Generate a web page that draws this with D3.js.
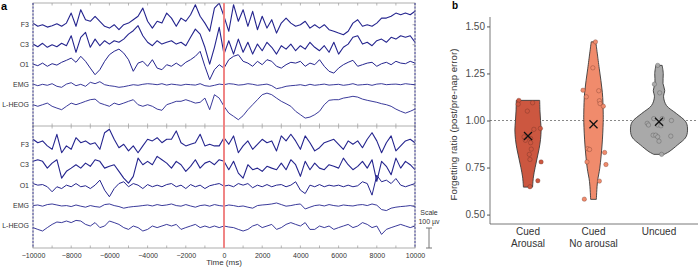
<!DOCTYPE html>
<html>
<head>
<meta charset="utf-8">
<script src="https://cdn.jsdelivr.net/npm/d3@7"></script>
<style>
  body { margin: 0; background: #fff; }
  svg { font-family: "Liberation Sans", Arial, sans-serif; }
</style>
</head>
<body>
<script>
const w = 700;
const h = 267;

// ---- panel a: EEG traces, deflection in microvolts, one sample every 250 ms from -10000 to 10000
const channels = ['F3', 'C3', 'O1', 'EMG', 'L-HEOG'];

const topF3 = [8,-8,0,-12,-5,5,-8,8,58,-8,75,25,17,42,17,-8,-17,0,-25,0,8,25,42,83,17,-17,17,8,58,33,-8,33,17,50,100,42,8,-33,83,108,42,-33,100,17,75,-8,67,-25,42,-17,25,-42,8,33,8,-8,0,17,-17,0,-17,0,-25,-33,-42,-50,-33,8,25,-8,0,-8,8,33,33,42,58,50,58,50,67];
const topC3 = [3,-10,7,-13,0,-10,7,-5,45,-38,37,62,-13,28,-5,20,3,20,12,28,53,70,95,45,12,-5,20,3,12,20,3,12,-5,37,78,53,-13,-97,-13,87,-47,20,-47,28,-38,12,-47,3,-30,12,-13,-47,-5,-22,3,-30,-5,-22,12,-13,-30,-5,-38,12,-47,-13,3,37,45,3,12,-5,20,28,12,37,28,45,37,45,12];
const topO1 = [3,-5,8,-8,5,-2,12,22,33,12,42,17,-17,-50,-25,17,50,67,78,58,25,-33,8,17,-8,25,-17,-25,0,-8,8,-8,12,25,42,67,-8,-75,-25,0,-17,25,42,50,17,8,-8,17,0,25,17,-8,-17,0,12,8,17,-8,8,0,25,-8,-33,-42,-17,0,12,22,-8,0,8,12,-8,5,12,0,17,8,5,17,8];
const topEMG = [3,-5,2,-3,5,-8,-13,3,10,-5,2,-8,12,5,15,0,-5,-8,-13,-10,-5,0,-3,2,5,3,0,5,-2,3,0,-3,2,0,-2,5,-5,-8,-3,3,0,5,3,-2,0,5,2,-3,0,3,-5,-20,-15,-8,-5,-3,0,-5,2,-3,0,3,-2,0,2,-3,0,5,-2,0,2,-3,3,5,0,2,3,0,5,2,0];
const topHEOG = [0,-8,0,8,-8,-17,-25,-8,8,0,8,17,25,28,8,0,-8,8,0,8,17,25,0,-8,0,-8,-22,-28,0,8,17,17,25,17,8,12,33,-25,50,33,-8,-42,-58,-75,-55,-25,0,25,50,58,50,33,17,5,-8,-33,-50,-67,-62,-50,-33,0,22,25,25,33,37,42,38,28,22,17,12,5,0,-8,-22,-33,-42,-33,-22];

const botF3 = [25,8,17,-8,-25,50,-42,-8,-25,33,8,17,0,8,-25,58,75,25,-17,0,-33,-8,-42,-8,25,17,33,8,25,25,67,8,-8,0,8,50,-8,0,-8,-8,33,0,42,-42,-8,17,-25,0,25,8,17,-33,42,17,50,17,-25,42,8,-33,-17,8,17,25,0,-25,17,0,17,-17,25,58,17,-42,8,42,-33,-8,17,25,8];
const botC3 = [17,25,17,-17,8,25,-67,-33,-17,0,-17,8,-8,25,17,-17,-8,0,-33,-67,-92,-58,33,0,17,0,42,25,8,-17,17,0,-33,-8,25,-17,8,17,0,25,17,-25,17,-42,-67,0,-25,-17,-33,-8,-17,-25,8,-25,25,0,-58,17,-25,8,-17,-25,0,-8,-17,33,0,-25,-8,17,-17,25,-83,17,-8,-50,33,-17,17,0,-25];
const botO1 = [8,0,3,-8,-33,-8,-17,0,-8,8,-8,-3,-17,0,25,-25,-58,-17,8,17,-8,8,0,-17,3,-8,0,-8,3,8,-8,0,-17,3,-8,0,-17,-3,3,8,-5,0,-8,8,0,8,-13,0,-8,3,-8,0,3,-8,0,17,-25,-42,0,-8,3,-8,0,-5,0,-8,0,-8,-3,17,8,-50,50,17,25,8,33,0,-8,0,8];
const botEMG = [0,3,-3,5,8,3,-2,0,-5,3,-3,-8,0,-5,-8,5,8,0,-5,-13,-8,-5,-3,0,3,-2,5,0,3,8,0,-3,5,-2,-8,0,3,-3,5,0,-3,3,0,-5,-2,-8,-13,0,3,5,8,13,5,-3,0,5,8,-17,-8,0,3,-2,5,0,-3,3,0,-2,3,5,0,8,2,-20,-25,-13,-8,-5,-3,0,-5];
const botHEOG = [-8,-17,-25,-8,8,20,17,25,17,28,25,8,0,17,-8,0,25,17,8,-8,-17,0,-8,-25,-17,0,-8,0,8,0,8,-17,-8,0,8,-8,0,-8,0,-8,0,-5,-8,-17,-25,-17,0,8,-8,0,8,-17,-8,8,17,8,0,17,-17,-17,0,-8,0,-17,-8,0,8,-8,0,17,8,-8,0,-42,-17,-8,0,8,0,-8,0];

const timeTicks = [-10000,-8000,-6000,-4000,-2000,0,2000,4000,6000,8000,10000];

// ---- panel b: forgetting ratio
const groups = ['Cued Arousal', 'Cued No arousal', 'Uncued'];
const groupLines = [['Cued', 'Arousal'], ['Cued', 'No arousal'], ['Uncued']];
const groupColors = ['#cc5740', '#f08b6c', '#a9a9a9'];
const ratioTicks = [0.5, 0.75, 1.0, 1.25, 1.5];

// violin outlines: [ratio, relative density]
const violinArousal = [[0.646,0.16],[0.70,0.19],[0.75,0.25],[0.80,0.32],[0.85,0.39],[0.90,0.44],[0.95,0.46],[1.00,0.44],[1.05,0.42],[1.107,0.41]];
const violinNoArousal = [[0.581,0.10],[0.675,0.14],[0.747,0.22],[0.87,0.30],[0.99,0.34],[1.045,0.34],[1.15,0.31],[1.278,0.20],[1.418,0.08]];
const violinUncued = [[0.82,0.18],[0.834,0.35],[0.87,0.65],[0.913,0.95],[0.96,1.0],[0.993,0.94],[1.037,0.61],[1.08,0.26],[1.126,0.16],[1.16,0.20],[1.197,0.14],[1.25,0.15],[1.293,0.11]];

// subjects: ratio and horizontal jitter (fraction of group spacing)
const ratiosArousal = [1.107,1.087,1.094,1.05,0.958,0.953,0.913,0.895,0.904,0.882,0.848,0.82,0.793,0.78,0.68,0.648];
const jitterArousal = [-0.14,-0.15,0.07,-0.01,0.19,0.09,-0.06,-0.04,0.04,0.04,0.05,0.02,0.03,0.20,0.15,0.03];
const ratiosNoArousal = [1.418,1.28,1.161,1.158,1.126,1.105,1.09,1.076,0.85,0.846,0.83,0.78,0.766,0.678,0.582];
const jitterNoArousal = [0.03,-0.01,-0.16,0.08,-0.11,0.09,0.10,0.15,-0.09,-0.06,0.17,-0.10,0.19,0.09,-0.14];
const ratiosUncued = [1.293,1.193,1.147,1.01,1.01,1.0,0.985,0.976,0.976,0.972,0.922,0.922,0.913,0.917,0.89,0.82];
const jitterUncued = [-0.02,-0.07,0.01,-0.08,0.05,0.19,-0.18,-0.16,-0.02,0.03,-0.09,-0.05,-0.02,0.18,0.0,0.04];

const groupMeans = [0.918, 0.98, 0.993];

const svg = d3.select('body').append('svg')
  .attr('width', w)
  .attr('height', h);

// ================= panel a =================
const traceColor = '#24248e';
const x = d3.scaleLinear().domain([-10000, 10000]).range([33, 415]);
const uv = d3.scaleLinear().domain([0, 100]).range([0, 20]); // 100 uV = 20 px

const subpanels = [
  {id: 'top', top: 3, bottom: 126, range: [21.7, 101.7],
   traces: [topF3, topC3, topO1, topEMG, topHEOG]},
  {id: 'bot', top: 126, bottom: 248, range: [18.3, 100],
   traces: [botF3, botC3, botO1, botEMG, botHEOG]}
];
const traceWidths = [1.1, 1.1, 1.0, 0.9, 0.9];

const defs = svg.append('defs');

subpanels.forEach(p => {
  defs.append('clipPath').attr('id', 'clip-' + p.id)
    .append('rect')
      .attr('x', x(-10000))
      .attr('y', p.top)
      .attr('width', x(10000) - x(-10000))
      .attr('height', p.bottom - p.top);

  const chan = d3.scalePoint().domain(channels)
    .range([p.top + p.range[0], p.top + p.range[1]]);

  const g = svg.append('g');

  // tick marks on top and bottom edges
  const minor = d3.range(-10000, 10001, 1000);
  g.selectAll('line.tk-top').data(minor).enter().append('line')
    .attr('x1', d => x(d)).attr('x2', d => x(d))
    .attr('y1', p.top).attr('y2', p.top + 2.5)
    .attr('stroke', '#888').attr('stroke-width', 0.6);
  g.selectAll('line.tk-bot').data(minor).enter().append('line')
    .attr('x1', d => x(d)).attr('x2', d => x(d))
    .attr('y1', p.bottom).attr('y2', p.bottom - 2.5)
    .attr('stroke', '#888').attr('stroke-width', 0.6);

  // small marks on the right edge at each channel
  g.selectAll('line.tk-r').data(channels).enter().append('line')
    .attr('x1', x(10000)).attr('x2', x(10000) - 2.5)
    .attr('y1', d => chan(d)).attr('y2', d => chan(d))
    .attr('stroke', '#888').attr('stroke-width', 0.6);

  const line = d3.line()
    .x((d, i, arr) => x(-10000 + i * 20000 / (arr.length - 1)))
    .y(d => -uv(d));

  const traceG = g.append('g').attr('clip-path', `url(#clip-${p.id})`);
  p.traces.forEach((t, k) => {
    traceG.append('path')
      .attr('transform', `translate(0,${chan(channels[k])})`)
      .attr('d', line(t))
      .attr('fill', 'none')
      .attr('stroke', traceColor)
      .attr('stroke-width', traceWidths[k])
      .attr('stroke-linejoin', 'round');
  });

  g.selectAll('text.chan').data(channels).enter().append('text')
    .attr('x', 29)
    .attr('y', d => chan(d))
    .attr('dy', '0.35em')
    .attr('text-anchor', 'end')
    .attr('font-size', 7)
    .attr('fill', '#333')
    .text(d => d);
});

// frame
svg.append('rect')
  .attr('x', x(-10000)).attr('y', 3)
  .attr('width', x(10000) - x(-10000)).attr('height', 245)
  .attr('fill', 'none').attr('stroke', '#999').attr('stroke-width', 0.8);
svg.append('line')
  .attr('x1', x(-10000)).attr('x2', x(10000))
  .attr('y1', 126).attr('y2', 126)
  .attr('stroke', '#999').attr('stroke-width', 0.8);
[-10000, 10000].forEach(t => {
  svg.append('line')
    .attr('x1', x(t)).attr('x2', x(t))
    .attr('y1', 3).attr('y2', 248)
    .attr('stroke', '#3b3b9e').attr('stroke-width', 0.9)
    .attr('stroke-dasharray', '2,1.5');
});

// stimulus onset
svg.append('line')
  .attr('x1', x(0)).attr('x2', x(0))
  .attr('y1', 3).attr('y2', 248)
  .attr('stroke', '#f08585').attr('stroke-width', 2);

// time axis labels
const xAxis = svg.append('g')
  .attr('transform', 'translate(0,248)')
  .call(d3.axisBottom(x).tickValues(timeTicks).tickSize(0).tickPadding(5).tickFormat(d3.format('d')));
xAxis.select('.domain').remove();
xAxis.selectAll('text')
  .attr('font-family', '"Liberation Sans", Arial, sans-serif')
  .attr('font-size', 7)
  .attr('fill', '#333');

svg.append('text')
  .attr('x', x(0)).attr('y', 265)
  .attr('text-anchor', 'middle')
  .attr('font-size', 8)
  .attr('fill', '#333')
  .text('Time (ms)');

// scale bar
svg.append('text').attr('x', 429).attr('y', 215)
  .attr('text-anchor', 'middle').attr('font-size', 7).attr('fill', '#333')
  .text('Scale');
svg.append('text').attr('x', 429).attr('y', 224)
  .attr('text-anchor', 'middle').attr('font-size', 7).attr('fill', '#333')
  .text('100 µv');
const bar = svg.append('g').attr('stroke', '#777').attr('stroke-width', 1);
bar.append('line').attr('x1', 429).attr('x2', 429).attr('y1', 248 - uv(100)).attr('y2', 248);
bar.append('line').attr('x1', 426).attr('x2', 432).attr('y1', 248 - uv(100)).attr('y2', 248 - uv(100));
bar.append('line').attr('x1', 426).attr('x2', 432).attr('y1', 248).attr('y2', 248);

svg.append('text').attr('x', 1).attr('y', 9.5)
  .attr('font-size', 11).attr('font-weight', 'bold').text('a');

// ================= panel b =================
const y = d3.scaleLinear().domain([0.45, 1.55]).range([224, 17]);
const gx = d3.scalePoint().domain(groups).range([528, 659]);
const spacing = gx.step();
const vw = d3.scaleLinear().domain([0, 1]).range([0, 28.5]);

svg.append('text').attr('x', 452).attr('y', 8.5)
  .attr('font-size', 10).attr('font-weight', 'bold').text('b');

// reference line at 1
svg.append('line')
  .attr('x1', 490).attr('x2', 698)
  .attr('y1', y(1)).attr('y2', y(1))
  .attr('stroke', '#555').attr('stroke-width', 0.7)
  .attr('stroke-dasharray', '2,2');

const violins = [violinArousal, violinNoArousal, violinUncued];
const ratios = [ratiosArousal, ratiosNoArousal, ratiosUncued];
const jitters = [jitterArousal, jitterNoArousal, jitterUncued];

violins.forEach((v, i) => {
  const cx = gx(groups[i]);
  const area = d3.area()
    .curve(d3.curveCatmullRom)
    .y(d => y(d[0]))
    .x0(d => cx - vw(d[1]))
    .x1(d => cx + vw(d[1]));
  svg.append('path')
    .attr('d', area(v))
    .attr('fill', groupColors[i])
    .attr('stroke', '#3a3a3a')
    .attr('stroke-width', 0.9);
});

ratios.forEach((r, i) => {
  const cx = gx(groups[i]);
  svg.selectAll(null).data(r).enter().append('circle')
    .attr('cx', (d, k) => cx + jitters[i][k] * spacing)
    .attr('cy', d => y(d))
    .attr('r', 2.2)
    .attr('fill', groupColors[i])
    .attr('stroke', i === 2 ? 'rgba(70,70,70,0.55)' : 'rgba(90,40,30,0.5)')
    .attr('stroke-width', 0.6);
});

// group means as crosses
groupMeans.forEach((m, i) => {
  const cx = gx(groups[i]);
  const cy = y(m);
  const s = 4;
  const g = svg.append('g').attr('stroke', '#111').attr('stroke-width', 1.3);
  g.append('line').attr('x1', cx - s).attr('x2', cx + s).attr('y1', cy - s).attr('y2', cy + s);
  g.append('line').attr('x1', cx - s).attr('x2', cx + s).attr('y1', cy + s).attr('y2', cy - s);
});

// axes
const yAxis = svg.append('g')
  .attr('transform', 'translate(490,0)')
  .call(d3.axisLeft(y).tickValues(ratioTicks).tickSize(3).tickPadding(2).tickFormat(d3.format('.2f')));
yAxis.select('.domain').remove();
yAxis.selectAll('line').attr('stroke', '#555');
yAxis.selectAll('text')
  .attr('font-family', '"Liberation Sans", Arial, sans-serif')
  .attr('font-size', 10)
  .attr('fill', '#4d4d4d');

svg.append('line').attr('x1', 490).attr('x2', 490).attr('y1', 17).attr('y2', 224)
  .attr('stroke', '#555').attr('stroke-width', 0.8);
svg.append('line').attr('x1', 490).attr('x2', 698).attr('y1', 224).attr('y2', 224)
  .attr('stroke', '#555').attr('stroke-width', 0.8);

groups.forEach((gname, i) => {
  const t = svg.append('text')
    .attr('x', gx(gname)).attr('y', 235)
    .attr('text-anchor', 'middle')
    .attr('font-size', 10)
    .attr('fill', '#333');
  groupLines[i].forEach((ln, j) => {
    t.append('tspan').attr('x', gx(gname)).attr('dy', j === 0 ? 0 : 11.5).text(ln);
  });
});

svg.append('text')
  .attr('transform', `translate(457,${(y(0.45) + y(1.55)) / 2 + 4}) rotate(-90)`)
  .attr('text-anchor', 'middle')
  .attr('font-size', 9.7)
  .attr('fill', '#333')
  .text('Forgetting ratio (post/pre-nap error)');
</script>
</body>
</html>
